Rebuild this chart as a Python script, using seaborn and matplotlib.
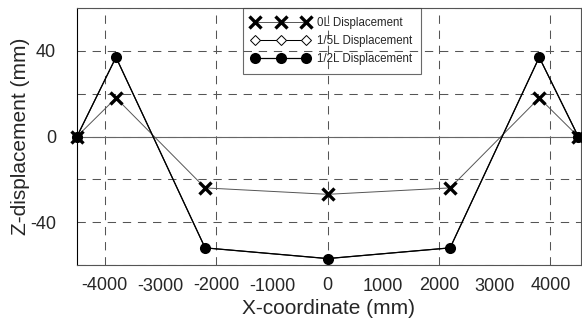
import seaborn as sns
import matplotlib.pyplot as plt
from matplotlib.ticker import MultipleLocator, FormatStrFormatter

# Data
x_coord = [-4500, -3800, -2200, 0, 2200, 3800, 4500]
disp_0L = [0, 18, -24, -27, -24, 18, 0]
disp_15L = [0, 37, -52, -57, -52, 37, 0]
disp_12L = [0, 37, -52, -57, -52, 37, 0]
labels = ["0L Displacement", "1/5L Displacement", "1/2L Displacement"]

sns.set_style("white")
plt.rcParams["font.family"] = ["Liberation Sans", "DejaVu Sans"]
plt.rcParams["axes.unicode_minus"] = False

fig = plt.figure(figsize=(5.82, 3.3), dpi=100)
ax = fig.add_axes([77 / 582, 65 / 330, 504 / 582, 257 / 330])

# Series
sns.lineplot(x=x_coord, y=disp_0L, ax=ax, color="#555555", linewidth=0.7,
             marker="x", markersize=8, markeredgewidth=2.4,
             markeredgecolor="black", label=labels[0], zorder=4, clip_on=False)
sns.lineplot(x=x_coord, y=disp_15L, ax=ax, color="black", linewidth=0.75,
             marker="D", markersize=5.5, markeredgewidth=0.7,
             markerfacecolor="white", markeredgecolor="black",
             label=labels[1], zorder=3, clip_on=False)
sns.lineplot(x=x_coord, y=disp_12L, ax=ax, color="black", linewidth=0.9,
             marker="o", markersize=8, markeredgewidth=0,
             markerfacecolor="black", markeredgecolor="black",
             label=labels[2], zorder=5, clip_on=False)

# Axes limits and ticks
ax.set_xlim(-4500, 4550)
ax.set_ylim(-60, 60)
ax.xaxis.set_major_locator(MultipleLocator(2000))
ax.xaxis.set_minor_locator(MultipleLocator(1000))
ax.xaxis.set_minor_formatter(FormatStrFormatter("%d"))
ax.yaxis.set_major_locator(MultipleLocator(40))
ax.yaxis.set_minor_locator(MultipleLocator(20))

ax.tick_params(axis="x", which="major", direction="inout", length=11.5,
               width=0.75, color="black", labelsize=13, pad=3)
ax.tick_params(axis="x", which="minor", direction="out", length=6.5,
               width=0.75, color="black", labelsize=13, pad=3)
ax.tick_params(axis="y", which="major", direction="out", length=14,
               width=0.75, color="black", labelsize=13, pad=1)
ax.tick_params(axis="y", which="minor", direction="out", length=6.5,
               width=0.75, color="black", pad=1)

# Grid
dash = (0, (8, 6.5))
ax.grid(True, axis="x", which="major", color="#555555", linestyle=dash,
        linewidth=0.75)
ax.grid(True, axis="y", which="both", color="#555555", linestyle=dash,
        linewidth=0.75)
ax.axhline(0, color="#666666", linewidth=0.8, zorder=1)

for side in ["top", "right", "bottom"]:
    ax.spines[side].set_color("#555555")
    ax.spines[side].set_linewidth(0.8)
ax.spines["left"].set_color("black")
ax.spines["left"].set_linewidth(0.8)

# Labels
ax.set_xlabel("X-coordinate (mm)", fontsize=15, labelpad=3)
ax.set_ylabel("Z-displacement (mm)", fontsize=15)
ax.yaxis.set_label_coords(-0.093, 0.5)

# Legend
leg = ax.legend(loc="upper center", bbox_to_anchor=(0.506, 1.0),
                borderaxespad=0, numpoints=3, handlelength=5.0,
                handletextpad=0.65, labelspacing=0.5, borderpad=0.8,
                fancybox=False, edgecolor="#444444", facecolor="none",
                fontsize=8.3)
leg.get_frame().set_linewidth(0.8)

plt.savefig("out.png", dpi=100)
